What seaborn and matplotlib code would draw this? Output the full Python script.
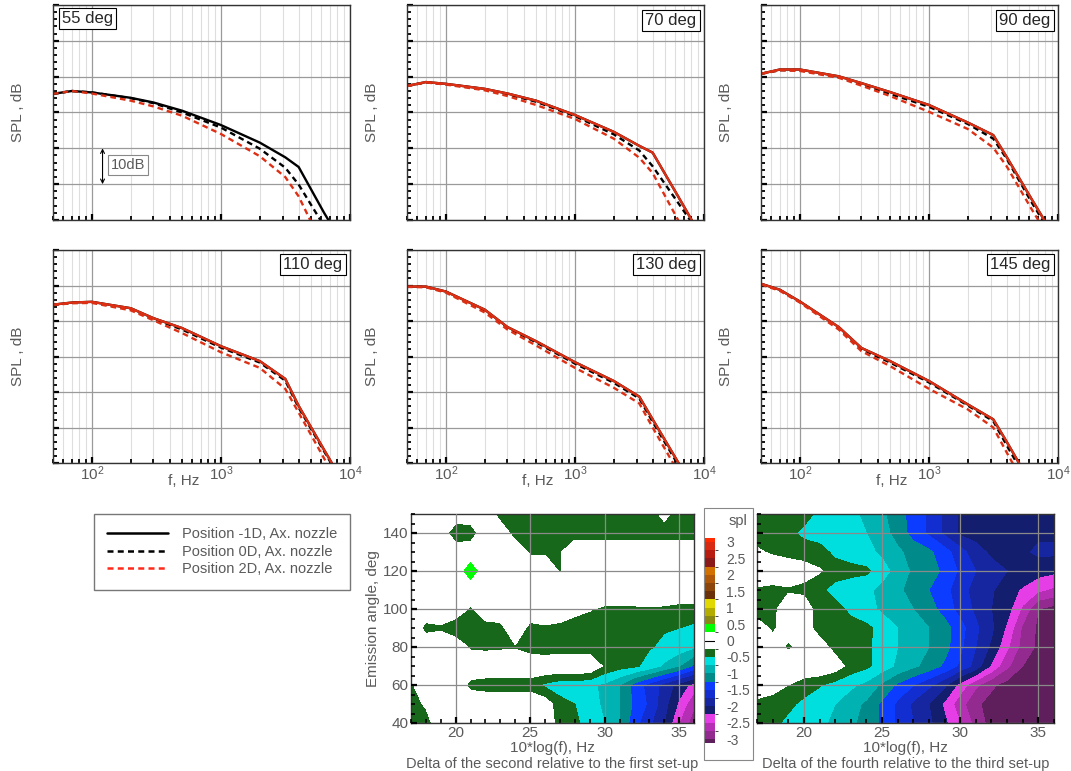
import numpy as np
import matplotlib
matplotlib.use("Agg")
import matplotlib.pyplot as plt
import seaborn as sns
from matplotlib.colors import ListedColormap, BoundaryNorm
from matplotlib.ticker import MultipleLocator, LogLocator, NullFormatter, FuncFormatter
from matplotlib.lines import Line2D
from matplotlib.patches import Rectangle

# ---- spectra, one row per emission angle (dB) ----
FREQ = [50, 70, 100, 200, 300, 500, 1000, 2000, 3150, 4000, 6300, 10000]
ANGLES = ["55 deg", "70 deg", "90 deg", "110 deg", "130 deg", "145 deg"]

spl_m1d = [  # position -1D, solid black
    [75.2, 76.0, 75.6, 74.1, 72.8, 70.5, 66.5, 61.6, 57.5, 54.8, 42.0, 30.0],
    [77.4, 78.5, 78.0, 76.6, 75.3, 73.3, 69.3, 64.6, 60.7, 58.8, 46.6, 34.0],
    [80.8, 82.0, 82.0, 80.1, 78.2, 75.7, 72.1, 67.2, 63.7, 57.6, 45.6, 33.6],
    [84.6, 85.2, 85.4, 83.6, 80.8, 78.0, 72.9, 68.7, 63.7, 56.1, 43.7, 31.2],
    [89.7, 89.7, 88.3, 83.2, 78.3, 74.3, 68.4, 63.1, 58.7, 52.3, 40.2, 27.8],
    [90.5, 88.8, 85.5, 78.3, 72.4, 68.7, 63.1, 56.5, 52.3, 46.0, 33.6, 20.0],
]
spl_0d = [  # position 0D, dashed black
    [75.2, 76.0, 75.6, 74.0, 72.6, 70.0, 65.8, 59.9, 54.6, 49.9, 38.3, 27.0],
    [77.4, 78.4, 77.9, 76.5, 75.1, 73.0, 69.0, 63.9, 59.4, 55.0, 44.8, 34.4],
    [80.8, 81.8, 81.8, 79.9, 78.0, 75.2, 71.6, 66.8, 62.7, 57.1, 44.7, 33.0],
    [84.5, 85.1, 85.3, 83.4, 80.6, 77.6, 72.5, 68.3, 63.2, 55.6, 43.3, 30.8],
    [89.7, 89.6, 88.2, 83.0, 78.1, 74.0, 68.0, 62.6, 58.2, 51.6, 39.5, 27.0],
    [90.4, 88.7, 85.4, 78.1, 72.1, 68.3, 62.7, 56.2, 51.8, 45.0, 32.5, 19.0],
]
spl_2d = [  # position 2D, dashed red
    [75.2, 76.0, 75.3, 73.3, 71.7, 69.1, 64.0, 57.8, 52.0, 46.6, 32.0, 17.0],
    [77.4, 78.4, 77.8, 76.2, 74.6, 72.1, 68.2, 62.7, 57.4, 53.1, 40.0, 28.0],
    [80.8, 81.8, 81.6, 79.7, 77.5, 74.6, 70.2, 65.4, 60.2, 55.0, 42.8, 31.0],
    [84.5, 85.0, 85.1, 83.0, 80.2, 76.6, 71.2, 66.8, 60.9, 54.2, 41.3, 28.0],
    [89.6, 89.5, 88.0, 82.4, 77.6, 73.1, 66.8, 61.2, 56.8, 50.0, 37.5, 25.0],
    [90.3, 88.5, 85.2, 77.6, 71.5, 67.3, 60.9, 55.1, 50.0, 43.0, 30.0, 17.0],
]
spl_4th = [  # fourth set-up, solid red (not in legend)
    None,
    [77.4, 78.5, 78.0, 76.6, 75.3, 73.3, 69.3, 64.6, 60.7, 58.8, 46.6, 34.0],
    [80.8, 82.0, 82.0, 80.1, 78.2, 75.7, 72.1, 67.2, 63.7, 57.6, 45.6, 33.6],
    [84.6, 85.2, 85.4, 83.6, 80.8, 78.0, 72.9, 68.7, 63.7, 56.1, 43.7, 31.2],
    [89.7, 89.7, 88.3, 83.2, 78.3, 74.3, 68.4, 63.1, 58.7, 52.3, 40.2, 27.8],
    [90.5, 88.8, 85.5, 78.3, 72.4, 68.7, 63.1, 56.5, 52.3, 46.0, 33.6, 20.0],
]
LEGEND_LABELS = ["Position -1D, Ax. nozzle", "Position 0D, Ax. nozzle",
                 "Position 2D, Ax. nozzle"]

# ---- delta maps: rows = emission angle, cols = 10*log(f) ----
LOGF = list(range(17, 37))
EMISSION = [40, 50, 60, 70, 80, 90, 100, 110, 120, 130, 140, 150]

delta_2_vs_1 = [
    [-0.45, -0.4, 0, 0, 0, 0, 0, 0, 0, 0, -0.4, -0.45, -0.6, -0.75, -1.0, -1.4, -1.7, -2.0, -2.5, -2.9],
    [-0.4, -0.2, 0, 0, 0, 0, 0, 0, 0, -0.1, -0.4, -0.5, -0.65, -0.8, -1.0, -1.3, -1.55, -1.9, -2.3, -2.7],
    [-0.3, 0, 0, 0, -0.35, -0.4, -0.4, -0.4, -0.4, -0.55, -0.65, -0.65, -0.7, -0.8, -1.0, -1.35, -1.6, -1.85, -2.1, -2.35],
    [0, 0, 0, 0, 0, 0, 0, 0, 0, 0, 0, 0, 0, -0.3, -0.4, -0.45, -0.6, -0.8, -1.0, -1.3],
    [0, 0, 0, 0, -0.3, -0.32, -0.3, -0.28, -0.4, -0.45, -0.4, -0.4, -0.4, -0.38, -0.4, -0.42, -0.48, -0.55, -0.62, -0.72],
    [0, -0.35, -0.3, -0.5, -0.45, -0.4, -0.35, 0, -0.35, -0.3, -0.35, -0.4, -0.4, -0.4, -0.45, -0.45, -0.45, -0.48, -0.5, -0.55],
    [0, 0, 0, 0, -0.3, 0, 0, -0.26, 0, 0, 0, -0.15, -0.23, -0.3, -0.3, -0.3, -0.28, -0.3, -0.35, -0.35],
    [0, 0, 0, 0, 0, 0, 0, 0, 0, 0, 0, 0, 0, 0, 0, 0, 0, 0, 0, 0],
    [0, 0, 0, 0, 0.45, 0, 0, 0, 0, 0, -0.28, 0, 0, 0, 0, 0, 0, 0, 0, 0],
    [0, 0, 0, 0, 0, 0, 0, 0, -0.3, -0.3, -0.28, 0, 0, 0, 0, 0, 0, 0, 0, 0],
    [0, 0, 0, -0.5, -0.45, 0, 0, -0.4, -0.4, -0.4, -0.4, -0.4, -0.4, -0.4, -0.4, -0.4, -0.4, -0.4, -0.4, -0.4],
    [0, 0, 0, 0, 0, 0, -0.4, -0.4, -0.4, -0.4, -0.4, -0.4, -0.4, -0.4, -0.4, -0.4, -0.4, -0.15, -0.4, -0.4],
]
delta_4_vs_3 = [
    [-0.4, -0.45, -0.55, -0.62, -0.7, -0.8, -0.95, -1.1, -1.3, -1.55, -1.75, -1.95, -2.2, -2.5, -2.85, -3.1, -3.1, -3.1, -3.1, -3.1],
    [-0.35, -0.4, -0.45, -0.55, -0.65, -0.75, -0.9, -1.05, -1.3, -1.55, -1.8, -2.0, -2.3, -2.65, -2.95, -3.1, -3.1, -3.1, -3.1, -3.1],
    [0, -0.1, -0.25, -0.4, -0.48, -0.6, -0.7, -0.82, -1.05, -1.3, -1.5, -1.7, -1.95, -2.35, -2.7, -2.95, -3.1, -3.1, -3.1, -3.1],
    [0, 0, 0, 0, 0, -0.1, -0.35, -0.45, -0.62, -0.8, -0.95, -1.1, -1.3, -1.55, -1.85, -2.3, -2.7, -3.0, -3.1, -3.1],
    [0, -0.1, -0.3, -0.15, -0.1, -0.35, -0.4, -0.45, -0.6, -0.75, -0.85, -1.0, -1.15, -1.45, -1.75, -2.05, -2.45, -2.85, -3.05, -3.1],
    [-0.1, -0.3, -0.1, -0.1, -0.38, -0.4, -0.42, -0.45, -0.58, -0.75, -0.88, -1.0, -1.15, -1.4, -1.7, -1.95, -2.3, -2.8, -3.05, -3.1],
    [-0.4, -0.35, 0, 0, -0.45, -0.42, -0.55, -0.65, -0.8, -0.9, -1.0, -1.15, -1.35, -1.6, -1.8, -2.0, -2.15, -2.55, -3.0, -3.1],
    [-0.3, -0.35, -0.3, -0.35, -0.45, -0.58, -0.65, -0.7, -0.82, -0.95, -1.1, -1.25, -1.42, -1.65, -1.85, -1.98, -2.1, -2.3, -2.45, -2.55],
    [0, 0, 0, -0.1, -0.22, -0.4, -0.42, -0.45, -0.65, -0.85, -1.05, -1.15, -1.3, -1.55, -1.75, -1.9, -2.0, -2.0, -2.15, -2.2],
    [-0.2, -0.3, -0.38, -0.4, -0.42, -0.55, -0.62, -0.68, -0.8, -0.95, -1.1, -1.2, -1.4, -1.65, -1.9, -2.05, -2.1, -2.05, -1.95, -1.95],
    [-0.4, -0.4, -0.45, -0.55, -0.6, -0.62, -0.68, -0.75, -0.9, -1.1, -1.35, -1.55, -1.8, -2.05, -2.1, -2.12, -2.12, -2.1, -2.05, -2.05],
    [-0.4, -0.4, -0.4, -0.42, -0.55, -0.62, -0.7, -0.8, -0.95, -1.15, -1.35, -1.55, -1.8, -2.05, -2.1, -2.12, -2.15, -2.15, -2.15, -2.15],
]
SPL_LEVELS = np.linspace(-3, 3, 25)
SPL_COLORS = [
    "#922a90", "#b52fb5", "#e63ee6", "#141e6e", "#1526a0", "#122ed0",
    "#0c3cff", "#008a8a", "#00b2b2", "#00dede", "#17681a", "#ffffff",
    "#ffffff", "#00ff00", "#888812", "#b4ad00", "#e0d800", "#6a300a",
    "#8c450a", "#b0580a", "#d27000", "#8a1a1a", "#b81c10", "#d82a12",
]
CBAR_TICKS = np.arange(-3, 3.01, 0.5)

# ---- style ----
sns.set_style("white")
plt.rcParams["font.family"] = ["Liberation Sans", "DejaVu Sans"]
plt.rcParams["mathtext.fontset"] = "custom"
plt.rcParams["mathtext.rm"] = "Liberation Sans"
plt.rcParams["axes.unicode_minus"] = False

W, H = 1071, 771
GRAY_TXT = "#5a5a5a"
RED = "#dd2f14"
DASH = (0, (2.4, 1.7))


def px_box(x0, y0, x1, y1):
    return [x0 / W, 1 - y1 / H, (x1 - x0) / W, (y1 - y0) / H]


fig = plt.figure(figsize=(W / 100, H / 100), dpi=100)

panel_boxes = [
    (53, 5, 350, 220), (407, 5, 704, 220), (761, 5, 1058, 220),
    (53, 250, 350, 463), (407, 250, 704, 463), (761, 250, 1058, 463),
]

for i, box in enumerate(panel_boxes):
    ax = fig.add_axes(px_box(*box))
    sns.lineplot(x=FREQ, y=spl_m1d[i], ax=ax, color="black", lw=1.7, legend=False)
    sns.lineplot(x=FREQ, y=spl_0d[i], ax=ax, color="black", lw=1.7,
                 linestyle=DASH, legend=False)
    sns.lineplot(x=FREQ, y=spl_2d[i], ax=ax, color=RED, lw=1.7,
                 linestyle=DASH, legend=False)
    if spl_4th[i] is not None:
        sns.lineplot(x=FREQ, y=spl_4th[i], ax=ax, color=RED, lw=1.7, legend=False)

    ax.set_xscale("log")
    ax.set_xlim(50, 10000)
    ax.set_ylim(40, 100)
    ax.xaxis.set_major_locator(LogLocator(base=10))
    ax.xaxis.set_minor_locator(LogLocator(base=10, subs=np.arange(2, 10)))
    ax.xaxis.set_minor_formatter(NullFormatter())
    ax.yaxis.set_major_locator(MultipleLocator(10))
    ax.yaxis.set_minor_locator(MultipleLocator(2))
    ax.set_yticklabels([])
    ax.grid(True, which="major", color="#9a9a9a", lw=0.9)
    ax.grid(True, which="minor", axis="x", color="#dedede", lw=0.8)
    ax.tick_params(which="both", direction="in", bottom=True, left=True,
                   top=False, right=False, color="black", labelcolor=GRAY_TXT,
                   labelsize=11, pad=1)
    ax.tick_params(which="major", length=4, width=1.6)
    ax.tick_params(which="minor", length=3, width=1.3)
    for sp in ax.spines.values():
        sp.set_color("#333333")
        sp.set_linewidth(1.0)
    ax.set_ylabel("SPL , dB", color=GRAY_TXT, fontsize=11)
    ax.yaxis.set_label_coords(-0.093, 0.5)
    if i < 3:
        ax.set_xticklabels([])
        ax.set_xlabel("")
    else:
        ax.set_xlabel("f, Hz", color=GRAY_TXT, fontsize=11)
        ax.xaxis.set_label_coords(0.44, -0.052)

    bbox = dict(boxstyle="square,pad=0.18", fc="white", ec="black", lw=0.8)
    if i == 0:
        ax.text(0.03, 0.97, ANGLES[i], transform=ax.transAxes, ha="left",
                va="top", fontsize=12, bbox=bbox)
        # 10 dB scale marker
        ax.annotate("", xy=(121, 50), xytext=(121, 60),
                    arrowprops=dict(arrowstyle="<->", color="black", lw=0.8,
                                    shrinkA=0, shrinkB=0, mutation_scale=7))
        ax.text(190, 55.4, "10dB", ha="center", va="center", fontsize=10.5,
                color=GRAY_TXT,
                bbox=dict(boxstyle="square,pad=0.2", fc="white", ec="#888888", lw=0.8))
    else:
        ax.text(0.975, 0.965, ANGLES[i], transform=ax.transAxes, ha="right",
                va="top", fontsize=12, bbox=bbox)

# ---- legend ----
handles = [
    Line2D([], [], color="black", lw=1.8),
    Line2D([], [], color="black", lw=1.8, linestyle=DASH),
    Line2D([], [], color="#ff2a1a", lw=1.8, linestyle=DASH),
]
fig.legend(handles, LEGEND_LABELS, loc="upper left",
           bbox_to_anchor=(94 / W, 1 - 514 / H), borderaxespad=0,
           frameon=True, fancybox=False, edgecolor="#777777", framealpha=1,
           fontsize=10.5, handlelength=4.2, labelspacing=0.25, borderpad=0.9,
           handletextpad=0.9, labelcolor=GRAY_TXT)

# ---- delta contour maps ----
cmap = ListedColormap(SPL_COLORS)
cmap.set_over("#ff2a00")
cmap.set_under("#5e1f5c")
norm = BoundaryNorm(SPL_LEVELS, cmap.N)

maps = [
    (delta_2_vs_1, (411, 514, 694, 723), "Delta of the second relative to the first set-up"),
    (delta_4_vs_3, (757, 514, 1054, 723), "Delta of the fourth relative to the third set-up"),
]
cs = None
for j, (grid, box, caption) in enumerate(maps):
    ax = fig.add_axes(px_box(*box))
    cs = ax.contourf(LOGF, EMISSION, np.array(grid), levels=SPL_LEVELS,
                     cmap=cmap, norm=norm, extend="both")
    ax.set_xlim(17, 36)
    ax.set_ylim(40, 150)
    ax.xaxis.set_major_locator(MultipleLocator(5))
    ax.xaxis.set_minor_locator(MultipleLocator(1))
    ax.yaxis.set_major_locator(MultipleLocator(20))
    ax.yaxis.set_minor_locator(MultipleLocator(5))
    ax.set_axisbelow(False)
    ax.grid(True, which="major", color="#8a8a8a", lw=0.9)
    ax.tick_params(which="both", direction="in", bottom=True, left=True,
                   top=False, right=False, color="black", labelcolor=GRAY_TXT,
                   labelsize=11, pad=2)
    ax.tick_params(which="major", length=4, width=1.6)
    ax.tick_params(which="minor", length=3, width=1.2)
    for sp in ax.spines.values():
        sp.set_color("#333333")
        sp.set_linewidth(1.0)
    ax.set_xlabel("10*log(f), Hz", color=GRAY_TXT, fontsize=11)
    ax.xaxis.set_label_coords(0.5, -0.086)
    ax.text(0.5, -0.197, caption, transform=ax.transAxes, ha="center",
            va="center", fontsize=10.5, color=GRAY_TXT)
    if j == 0:
        ax.set_ylabel("Emission angle, deg", color=GRAY_TXT, fontsize=11)
        ax.yaxis.set_label_coords(-0.11, 0.5)
    else:
        ax.set_yticklabels([])
        ax.set_ylabel("")

# ---- colour legend ----
cax = fig.add_axes(px_box(704, 538, 715, 743))
cb = fig.colorbar(cs, cax=cax, ticks=CBAR_TICKS, extendrect=True,
                  extendfrac=0.02)
cb.outline.set_visible(False)
cax.axhline(0, color="black", lw=0.8)
cax.tick_params(length=0, labelsize=10, labelcolor=GRAY_TXT, pad=8)
cax.yaxis.set_major_formatter(FuncFormatter(lambda v, p: f"{v:g}"))
fig.text(738 / W, 1 - 521 / H, "spl", ha="center", va="center", fontsize=10.5,
         color=GRAY_TXT)
fig.add_artist(Rectangle((704 / W, 1 - 760 / H), 49 / W, 252 / H,
                         transform=fig.transFigure, fill=False,
                         edgecolor="#888888", lw=0.8))

fig.savefig("out.png", dpi=100)
